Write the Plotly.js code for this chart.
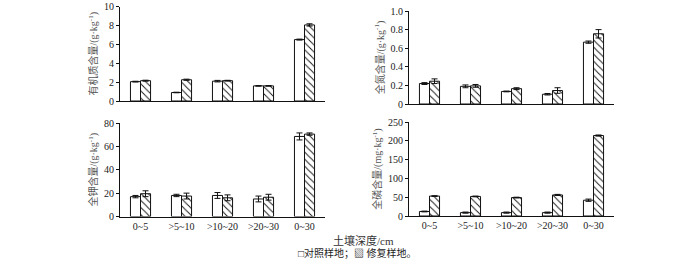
<!DOCTYPE html>
<html>
<head>
<meta charset="utf-8">
<script src="https://cdn.plot.ly/plotly-3.0.1.min.js"></script>
<style>html,body{margin:0;padding:0;background:#fff;}#chart{width:700px;height:261px;}</style>
</head>
<body>
<div id="chart"></div>
<script>
// Categories (soil depth, cm)
const depths = ["0~5", ">5~10", ">10~20", ">20~30", "0~30"];
const seriesNames = ["对照样地", "修复样地"];

// Organic matter content (g/kg)
const omControl = [2.05, 0.9, 2.1, 1.6, 6.5];
const omControlErr = [0.04, 0.03, 0.08, 0.03, 0.05];
const omRestored = [2.15, 2.25, 2.15, 1.6, 8.05];
const omRestoredErr = [0.05, 0.06, 0.04, 0.03, 0.12];

// Total nitrogen content (g/kg)
const tnControl = [0.22, 0.19, 0.135, 0.105, 0.665];
const tnControlErr = [0.01, 0.015, 0.004, 0.008, 0.012];
const tnRestored = [0.245, 0.195, 0.165, 0.145, 0.755];
const tnRestoredErr = [0.025, 0.015, 0.01, 0.03, 0.045];

// Total potassium content (g/kg)
const tkControl = [17, 18, 18, 15, 68.5];
const tkControlErr = [1, 1, 2.5, 2.5, 3];
const tkRestored = [19.5, 17.5, 16, 16.5, 70.5];
const tkRestoredErr = [2.5, 2.5, 2.5, 2.5, 1];

// Total phosphorus content (mg/kg)
const tpControl = [12, 9, 9, 9, 42];
const tpControlErr = [1, 1.5, 1.5, 1.5, 3];
const tpRestored = [53, 52, 49, 56, 214];
const tpRestoredErr = [1, 1, 1, 1.5, 1.5];

const yTitles = ["有机质含量/(g·kg<sup>-1</sup>)", "全氮含量/(g·kg<sup>-1</sup>)",
                 "全钾含量/(g·kg<sup>-1</sup>)", "全磷含量/(mg·kg<sup>-1</sup>)"];
const yTickVals = [[0,2,4,6,8,10],[0,0.2,0.4,0.6,0.8,1.0],[0,20,40,60,80],[0,50,100,150,200,250]];
const yTickText = [["0","2","4","6","8","10"],["0","0.2","0.4","0.6","0.8","1.0"],["0","20","40","60","80"],["0","50","100","150","200","250"]];
const yRanges = [[0,10],[0,1],[0,80],[0,250]];
const xTitle = "土壤深度/cm";
const legendText = "□对照样地；▧ 修复样地。";

const panels = [
  [omControl, omControlErr, omRestored, omRestoredErr],
  [tnControl, tnControlErr, tnRestored, tnRestoredErr],
  [tkControl, tkControlErr, tkRestored, tkRestoredErr],
  [tpControl, tpControlErr, tpRestored, tpRestoredErr]
];

const W = 700, H = 261;
// pixel boxes: [x0, x1, yBottom, yTop]
const boxes = [
  [120, 325, 101, 6.5],
  [409, 614, 104, 11],
  [120, 325, 216.5, 123],
  [409, 614, 216, 122]
];
const FONT = "Liberation Serif, Times New Roman, Noto Sans CJK SC, serif";

const traces = [];
const layout = {
  width: W, height: H,
  margin: {l: 0, r: 0, t: 0, b: 0},
  paper_bgcolor: "#fff", plot_bgcolor: "#fff",
  barmode: "group", bargap: 0.51, bargroupgap: 0,
  showlegend: false,
  font: {family: FONT, size: 10, color: "#222"},
  annotations: [],
};

panels.forEach((p, i) => {
  const n = i + 1;
  const xa = n === 1 ? "x" : "x" + n;
  const ya = n === 1 ? "y" : "y" + n;
  traces.push({
    type: "bar", x: depths, y: p[0], name: seriesNames[0], xaxis: xa, yaxis: ya,
    marker: {color: "#fff", line: {color: "#111", width: 1}},
    error_y: {type: "data", array: p[1], visible: true, color: "#111", thickness: 1, width: 3}
  });
  traces.push({
    type: "bar", x: depths, y: p[2], name: seriesNames[1], xaxis: xa, yaxis: ya,
    marker: {color: "#fff", line: {color: "#111", width: 1},
             pattern: {shape: "\\", fgcolor: "#111", bgcolor: "#fff", size: 5, solidity: 0.18}},
    error_y: {type: "data", array: p[3], visible: true, color: "#111", thickness: 1, width: 3}
  });
  const b = boxes[i];
  layout["xaxis" + (n === 1 ? "" : n)] = {
    domain: [b[0] / W, b[1] / W], anchor: ya,
    type: "category", range: [-0.5, 4.5],
    showline: true, linecolor: "#111", linewidth: 1,
    ticks: "", showgrid: false, zeroline: false,
    showticklabels: i >= 2,
    tickfont: {family: FONT, size: 10, color: "#222"},
    fixedrange: true
  };
  layout["yaxis" + (n === 1 ? "" : n)] = {
    domain: [1 - b[2] / H, 1 - b[3] / H], anchor: xa,
    range: yRanges[i],
    tickmode: "array", tickvals: yTickVals[i], ticktext: yTickText[i],
    showline: true, linecolor: "#111", linewidth: 1,
    ticks: "outside", ticklen: 3, tickcolor: "#111", tickwidth: 1,
    showgrid: false, zeroline: false,
    tickfont: {family: FONT, size: 10, color: "#222"},
    title: {text: yTitles[i], font: {family: FONT, size: 10, color: "#555"}, standoff: 4},
    automargin: false,
    fixedrange: true
  };
});

layout.annotations.push({
  xref: "paper", yref: "paper", x: 363 / W, y: 1 - 240 / H,
  text: xTitle, showarrow: false, xanchor: "center", yanchor: "middle",
  font: {family: FONT, size: 11, color: "#333"}
});
layout.annotations.push({
  xref: "paper", yref: "paper", x: 357 / W, y: 1 - 253 / H,
  text: legendText, showarrow: false, xanchor: "center", yanchor: "middle",
  font: {family: FONT, size: 10, color: "#222"}
});

Plotly.newPlot("chart", traces, layout, {staticPlot: true, displayModeBar: false});
</script>
</body>
</html>
